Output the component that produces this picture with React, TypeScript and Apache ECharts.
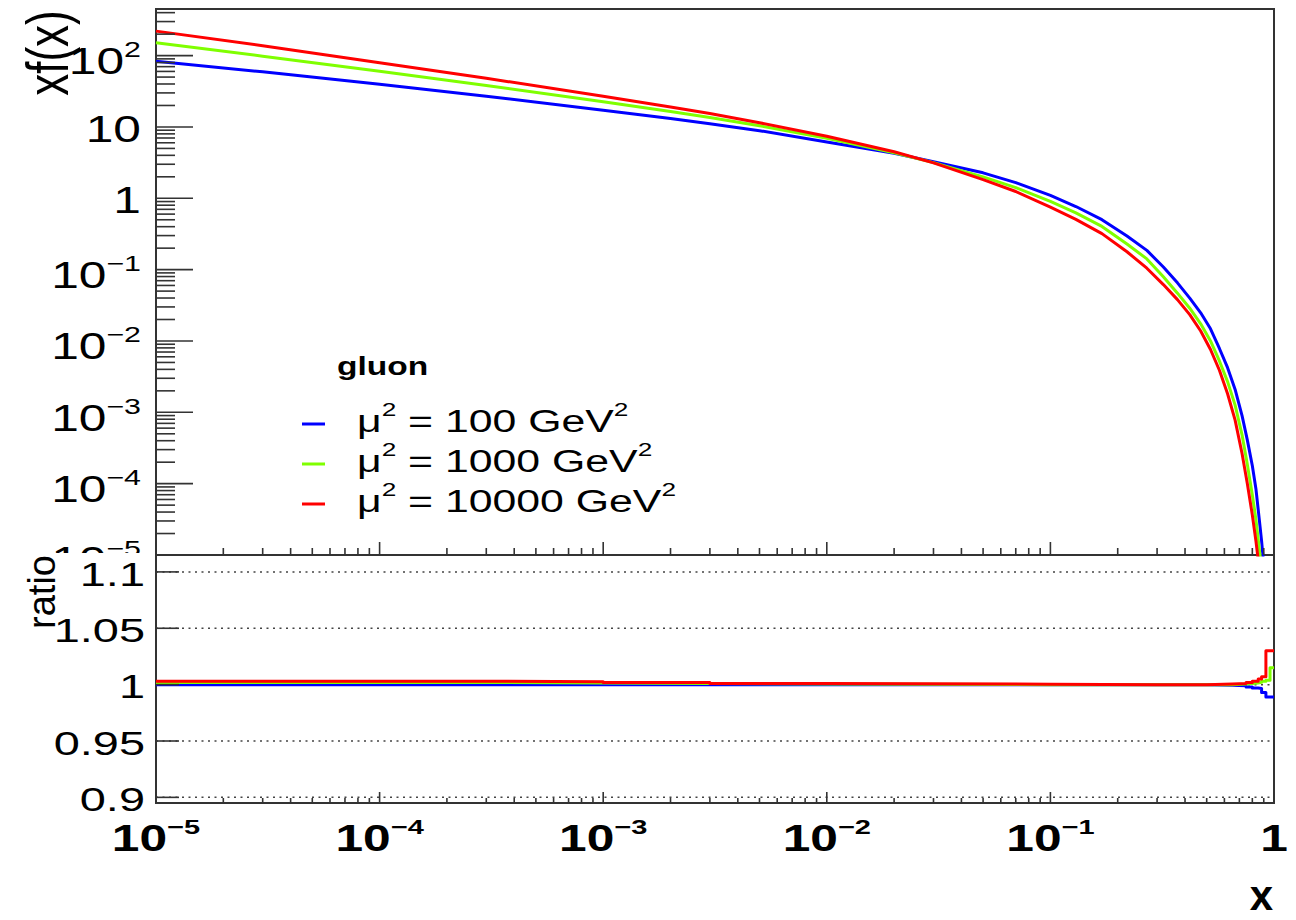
import React, { useEffect, useRef } from "react";
import * as echarts from "echarts";

// ---------------- data ----------------
const xPoints = [1e-5, 3e-5, 1e-4, 3e-4, 1e-3, 2e-3, 3e-3, 5e-3, 0.01, 0.02, 0.03, 0.05, 0.07, 0.1, 0.13, 0.17, 0.22, 0.27, 0.32, 0.37, 0.42, 0.47, 0.52, 0.57, 0.62, 0.67, 0.72, 0.76, 0.8, 0.83, 0.86, 0.88, 0.9, 0.92];
const xfMu100 = [83.6, 59.2, 39.6, 26.9, 17.2, 13.1, 11.1, 8.87, 6.17, 4.27, 3.25, 2.275, 1.66, 1.096, 0.767, 0.501, 0.296, 0.186, 0.1089, 0.0653, 0.0398, 0.0248, 0.0148, 0.00785, 0.00422, 0.00209, 8.91e-4, 4.07e-4, 1.78e-4, 8.51e-5, 3.09e-5, 1.58e-5, 7.1e-6, 2.3e-6];
const xfMu1000 = [151.7, 98.2, 60.4, 38.2, 22.6, 16.5, 13.6, 10.4, 6.92, 4.345, 3.162, 1.995, 1.413, 0.902, 0.624, 0.403, 0.229, 0.1413, 0.0794, 0.0468, 0.0288, 0.0174, 0.01, 0.00525, 0.00269, 0.00126, 4.79e-4, 1.86e-4, 6.92e-5, 3.16e-5, 1.2e-5, 6.3e-6, 2.8e-6, 1e-6];
const xfMu10000 = [220.3, 137.4, 79.6, 48.1, 27.0, 19.1, 15.4, 11.46, 7.41, 4.49, 3.14, 1.828, 1.245, 0.75, 0.507, 0.32, 0.178, 0.1047, 0.0617, 0.038, 0.0234, 0.0138, 0.00759, 0.00389, 0.00182, 7.76e-4, 2.63e-4, 1.0e-4, 3.63e-5, 1.58e-5, 6.3e-6, 3.2e-6, 1.3e-6, 4e-7];

const ratioX = [1e-5, 1e-4, 3e-4, 1e-3, 3e-3, 1e-2, 0.1, 0.3, 0.5, 0.65, 0.75, 0.8, 0.85, 0.88, 0.92, 0.96, 1.0];
const ratioMu100 = [1.0, 1.0, 1.0, 1.0, 1.0, 1.0, 1.0, 1.0, 0.9995, 0.999, 0.998, 0.997, 0.9965, 0.993, 0.989, 0.989, 0.989];
const ratioMu1000 = [1.002, 1.002, 1.0015, 1.001, 1.0005, 1.0, 1.0, 1.0, 1.0, 1.0005, 1.001, 1.0015, 1.002, 1.003, 1.004, 1.015, 1.015];
const ratioMu10000 = [1.003, 1.003, 1.0025, 1.0018, 1.001, 1.0004, 1.0, 1.0, 1.0005, 1.001, 1.002, 1.003, 1.005, 1.007, 1.03, 1.03, 1.03];

const seriesNames = ["μ² = 100 GeV²", "μ² = 1000 GeV²", "μ² = 10000 GeV²"];
const legendLabels = [
  "{m|μ}{s|2}{m| = 100 GeV}{s|2}",
  "{m|μ}{s|2}{m| = 1000 GeV}{s|2}",
  "{m|μ}{s|2}{m| = 10000 GeV}{s|2}",
];
const legendTitle = "gluon";
const seriesColors = ["#0000ff", "#7fff00", "#ff0000"];

const yTopTicks = [1e-5, 1e-4, 1e-3, 1e-2, 1e-1, 1, 10, 100];
const yTopTickLabels = ["{b|10}{s|−5}", "{b|10}{s|−4}", "{b|10}{s|−3}", "{b|10}{s|−2}", "{b|10}{s|−1}", "{b|1}", "{b|10}", "{b|10}{s|2}"];
const xTicks = [1e-5, 1e-4, 1e-3, 1e-2, 1e-1, 1];
const xTickLabels = ["{b|10}{s|−5}", "{b|10}{s|−4}", "{b|10}{s|−3}", "{b|10}{s|−2}", "{b|10}{s|−1}", "{b|1}"];
const ratioTicks = [0.9, 0.95, 1, 1.05, 1.1];
const ratioTickLabels = ["0.9", "0.95", "1", "1.05", "1.1"];
const minorMultipliers = [2, 3, 4, 5, 6, 7, 8, 9];

const yTitle = "xf(x)";
const ratioTitle = "ratio";
const xTitle = "x";

// ---------------- axis ranges ----------------
const X_MIN = 1e-5;
const X_MAX = 1;
const Y_MIN = 1e-5;
const Y_MAX = 450;
const R_MIN = 0.895;
const R_MAX = 1.115;

const FONT = "'Liberation Sans', Arial, Helvetica, sans-serif";
const STRETCH = 1.38;
const AXIS_COLOR = "#333";

const pair = (xs: number[], ys: number[]) => xs.map((x, i) => [x, ys[i]]);

const xMinor: number[] = [];
xTicks.slice(0, -1).forEach((d) => minorMultipliers.forEach((m) => xMinor.push(m * d)));
const yMinor: number[] = [];
yTopTicks.forEach((d) => minorMultipliers.forEach((m) => { if (m * d <= Y_MAX) yMinor.push(m * d); }));

const lineSeries = (name: string, color: string, data: number[][], xi: number, yi: number, step?: string) => ({
  type: "line",
  name,
  xAxisIndex: xi,
  yAxisIndex: yi,
  data,
  symbol: "none",
  showSymbol: false,
  step: step || false,
  smooth: false,
  lineStyle: { color, width: 3, join: "round" },
  itemStyle: { color },
  clip: true,
  silent: true,
  z: 2,
});

const tickSeries = (xi: number, yi: number, data: number[][], dir: "right" | "up", majorLen: number, minorLen: number) => ({
  type: "custom",
  xAxisIndex: xi,
  yAxisIndex: yi,
  data,
  silent: true,
  clip: false,
  z: 3,
  renderItem: (_p: any, api: any) => {
    const p = api.coord([api.value(0), api.value(1)]);
    const len = api.value(2) === 1 ? majorLen : minorLen;
    const shape = dir === "right"
      ? { x1: p[0], y1: p[1], x2: p[0] + len, y2: p[1] }
      : { x1: p[0], y1: p[1], x2: p[0], y2: p[1] - len };
    return { type: "line", shape, style: { stroke: AXIS_COLOR, lineWidth: 1.6 } };
  },
});

const labelSeries = (
  xi: number, yi: number, data: number[][], labels: string[],
  o: { dx: number; dyExp: number; dyPlain: number; align: string; rich?: any; fontSize: number; fontWeight?: string; z: number }
) => ({
  type: "custom",
  xAxisIndex: xi,
  yAxisIndex: yi,
  data,
  silent: true,
  clip: false,
  z: o.z,
  renderItem: (_p: any, api: any) => {
    const p = api.coord([api.value(0), api.value(1)]);
    const text = labels[api.value(2)];
    const exp = text.indexOf("{s|") >= 0;
    return {
      type: "text",
      x: p[0] + o.dx,
      y: p[1] + (exp ? o.dyExp : o.dyPlain),
      scaleX: STRETCH,
      style: {
        text,
        align: o.align,
        verticalAlign: "middle",
        rich: o.rich,
        fontFamily: FONT,
        fontSize: o.fontSize,
        fontWeight: o.fontWeight || "normal",
        fill: "#000",
      },
    };
  },
});

const richTopY = {
  b: { fontSize: 36, lineHeight: 46, fontFamily: FONT, fill: "#000" },
  s: { fontSize: 22, lineHeight: 22, fontFamily: FONT, fill: "#000", verticalAlign: "top" },
};
const richX = {
  b: { fontSize: 36, lineHeight: 46, fontFamily: FONT, fontWeight: "bold", fill: "#000" },
  s: { fontSize: 21, lineHeight: 21, fontFamily: FONT, fontWeight: "bold", fill: "#000", verticalAlign: "top" },
};
const richLegend = {
  m: { fontSize: 31, lineHeight: 42, fontFamily: FONT, fill: "#000" },
  s: { fontSize: 19, lineHeight: 19, fontFamily: FONT, fill: "#000", verticalAlign: "top" },
};

function buildOption() {
  const gridBase = { show: true, borderColor: AXIS_COLOR, borderWidth: 2, backgroundColor: "transparent", containLabel: false };
  const hiddenAxis = { axisLine: { show: false }, axisTick: { show: false }, axisLabel: { show: false }, splitLine: { show: false }, minorTick: { show: false } };

  const legendRows = seriesColors.map((c, i) => ({ c, i }));

  return {
    animation: false,
    backgroundColor: "#ffffff",
    grid: [
      { ...gridBase, left: 156, top: 9, width: 1118, height: 546 },
      { ...gridBase, left: 156, top: 555, width: 1118, height: 248 },
    ],
    xAxis: [
      { type: "log", logBase: 10, gridIndex: 0, min: X_MIN, max: X_MAX, ...hiddenAxis },
      { type: "log", logBase: 10, gridIndex: 1, min: X_MIN, max: X_MAX, ...hiddenAxis },
    ],
    yAxis: [
      { type: "log", logBase: 10, gridIndex: 0, min: Y_MIN, max: Y_MAX, ...hiddenAxis },
      { type: "value", gridIndex: 1, min: R_MIN, max: R_MAX, ...hiddenAxis },
    ],
    series: [
      // dotted ratio reference lines
      {
        type: "custom",
        xAxisIndex: 1,
        yAxisIndex: 1,
        data: ratioTicks.map((v) => [X_MIN, v]),
        silent: true,
        z: 1,
        renderItem: (_p: any, api: any) => {
          const a = api.coord([X_MIN, api.value(1)]);
          const b = api.coord([X_MAX, api.value(1)]);
          return { type: "line", shape: { x1: a[0], y1: a[1], x2: b[0], y2: b[1] }, style: { stroke: "#444", lineWidth: 1.5, lineDash: [2, 4.5] } };
        },
      },
      lineSeries(seriesNames[0], seriesColors[0], pair(xPoints, xfMu100), 0, 0),
      lineSeries(seriesNames[1], seriesColors[1], pair(xPoints, xfMu1000), 0, 0),
      lineSeries(seriesNames[2], seriesColors[2], pair(xPoints, xfMu10000), 0, 0),
      lineSeries(seriesNames[0], seriesColors[0], pair(ratioX, ratioMu100), 1, 1, "end"),
      lineSeries(seriesNames[1], seriesColors[1], pair(ratioX, ratioMu1000), 1, 1, "end"),
      lineSeries(seriesNames[2], seriesColors[2], pair(ratioX, ratioMu10000), 1, 1, "end"),
      // ticks
      tickSeries(0, 0, [...yTopTicks.map((v) => [X_MIN, v, 1]), ...yMinor.map((v) => [X_MIN, v, 0])], "right", 37, 19),
      tickSeries(0, 0, [...xTicks.map((v) => [v, Y_MIN, 1]), ...xMinor.map((v) => [v, Y_MIN, 0])], "up", 13, 7),
      tickSeries(1, 1, ratioTicks.map((v) => [X_MIN, v, 1]), "right", 23, 12),
      tickSeries(1, 1, [...xTicks.map((v) => [v, R_MIN, 1]), ...xMinor.map((v) => [v, R_MIN, 0])], "up", 11, 5),
      // tick labels
      labelSeries(0, 0, yTopTicks.map((v, i) => [X_MIN, v, i]), yTopTickLabels, { dx: -15, dyExp: 6, dyPlain: 2.5, align: "right", rich: richTopY, fontSize: 36, z: 3 }),
      labelSeries(1, 1, ratioTicks.map((v, i) => [X_MIN, v, i]), ratioTickLabels, { dx: -11, dyExp: 2, dyPlain: 2, align: "right", fontSize: 34, z: 6 }),
      labelSeries(1, 1, xTicks.map((v, i) => [v, R_MIN, i]), xTickLabels, { dx: 0, dyExp: 36, dyPlain: 36, align: "center", rich: richX, fontSize: 36, fontWeight: "bold", z: 6 }),
    ],
    graphic: [
      // lower pad covering the top panel's lowest label
      { type: "rect", shape: { x: 0, y: 553, width: 152, height: 70 }, style: { fill: "#ffffff" }, z: 4, silent: true },
      {
        type: "text", x: 48, y: 53, rotation: Math.PI / 2, scaleY: 1.35, z: 6,
        style: { text: yTitle, fontSize: 44, fontFamily: FONT, align: "center", verticalAlign: "middle", fill: "#000" },
      },
      {
        type: "text", x: 42, y: 592, rotation: Math.PI / 2, z: 6,
        style: { text: ratioTitle, fontSize: 38, fontFamily: FONT, align: "center", verticalAlign: "middle", fill: "#000" },
      },
      {
        type: "text", x: 1273, y: 895, z: 6,
        style: { text: xTitle, fontSize: 42, fontWeight: "bold", fontFamily: FONT, align: "right", verticalAlign: "middle", fill: "#000" },
      },
      {
        type: "text", x: 337, y: 366, scaleX: 1.34, z: 6,
        style: { text: legendTitle, fontSize: 25, fontWeight: "bold", fontFamily: FONT, align: "left", verticalAlign: "middle", fill: "#000" },
      },
      ...legendRows.map(({ c, i }) => ({
        type: "line", z: 6, silent: true,
        shape: { x1: 302, y1: 424 + i * 40, x2: 325, y2: 424 + i * 40 },
        style: { stroke: c, lineWidth: 3 },
      })),
      ...legendRows.map(({ i }) => ({
        type: "text", x: 357, y: 421 + i * 40, scaleX: STRETCH, z: 6,
        style: { text: legendLabels[i], rich: richLegend, fontSize: 31, fontFamily: FONT, align: "left", verticalAlign: "middle", fill: "#000" },
      })),
    ],
  };
}

export default function App() {
  const ref = useRef<HTMLDivElement | null>(null);
  useEffect(() => {
    if (!ref.current) return;
    const chart = echarts.init(ref.current, undefined, { renderer: "svg" });
    chart.setOption(buildOption() as any);
    return () => chart.dispose();
  }, []);
  return (
    <div
      ref={ref}
      style={{ position: "absolute", left: 0, top: 0, width: 1296, height: 920, background: "#fff" }}
    />
  );
}
